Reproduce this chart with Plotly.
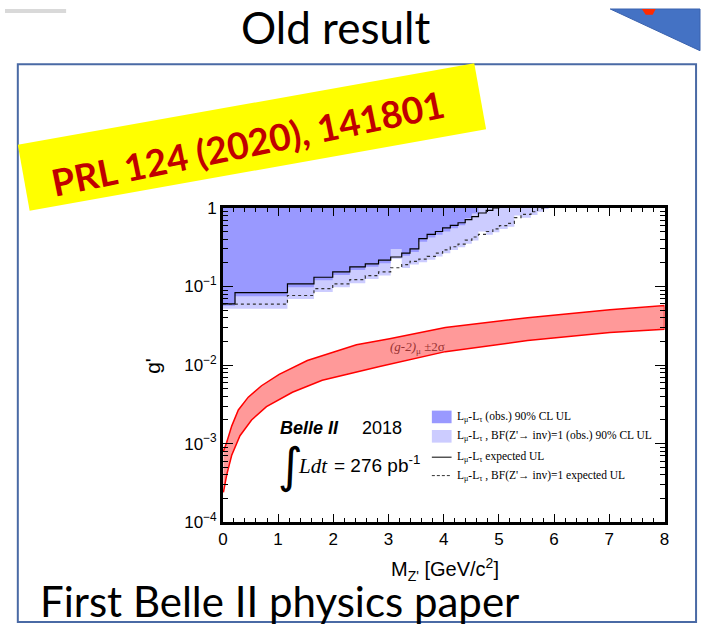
import plotly.graph_objects as go

W, H = 705, 635

# ---------------- data ----------------
mass_edges = [0.0, 0.22, 1.17, 1.65, 1.99, 2.30, 2.58, 2.82, 3.04, 3.24, 3.39, 3.55,
              3.70, 3.85, 3.98, 4.12, 4.26, 4.39, 4.51, 4.63, 4.77, 4.89, 5.01, 5.16,
              5.28, 5.40, 5.58, 5.70, 5.82, 5.90]

# L_mu - L_tau observed 90% CL UL (dark)
obs_ul = [0.057, 0.075, 0.098, 0.12, 0.14, 0.162, 0.178, 0.198, 0.30, 0.245, 0.275,
          0.37, 0.42, 0.455, 0.50, 0.55, 0.60, 0.74, 0.85]
# L_mu - L_tau, BF(Z'->inv)=1 observed 90% CL UL (light)
obs_inv_ul = [0.052, 0.052, 0.069, 0.085, 0.098, 0.11, 0.124, 0.138, 0.225, 0.172, 0.19,
              0.203, 0.218, 0.24, 0.265, 0.29, 0.315, 0.35, 0.385, 0.50, 0.455, 0.49,
              0.54, 0.575, 0.80, 0.75, 0.81, 0.89, 0.97]
# expected UL (solid)
exp_ul = [0.060, 0.0836, 0.108, 0.131, 0.153, 0.177, 0.194, 0.216, 0.237, 0.265, 0.30,
          0.406, 0.46, 0.50, 0.556, 0.60, 0.647, 0.71, 0.774, 0.86, 0.927, 1.0]
# BF=1 expected UL (dashed)
exp_inv_ul = [0.0594, 0.0594, 0.0767, 0.0936, 0.108, 0.122, 0.137, 0.153, 0.173, 0.19,
              0.209, 0.223, 0.241, 0.265, 0.292, 0.32, 0.346, 0.388, 0.426, 0.46, 0.50,
              0.54, 0.594, 0.634, 0.75, 0.827, 0.893, 0.98]

# (g-2)_mu +-2 sigma band
g2_upper_mass = [0.01, 0.07, 0.16, 0.28, 0.46, 0.70, 1.02, 1.53, 2.42, 3.02, 4.03, 5.52, 7.01, 8.0]
g2_upper = [8.0e-4, 1.04e-3, 1.67e-3, 2.68e-3, 3.9e-3, 5.45e-3, 7.6e-3, 0.0114, 0.0181,
            0.0216, 0.030, 0.040, 0.0506, 0.057]
g2_lower_mass = [0.01, 0.07, 0.16, 0.31, 0.52, 0.79, 1.26, 1.80, 2.84, 4.03, 5.52, 7.01, 8.0]
g2_lower = [2.4e-4, 4.0e-4, 7.1e-4, 1.26e-3, 2.0e-3, 2.95e-3, 4.5e-3, 6.4e-3, 0.0096,
            0.0148, 0.0205, 0.026, 0.0285]

x_ticks = [0, 1, 2, 3, 4, 5, 6, 7, 8]
y_ticks = [1e-4, 1e-3, 1e-2, 1e-1, 1]
y_ticktext = ["10<sup>−4</sup>", "10<sup>−3</sup>", "10<sup>−2</sup>", "10<sup>−1</sup>", "1"]

legend_labels = [
    "L<sub>μ</sub>-L<sub>τ</sub> (obs.) 90% CL UL",
    "L<sub>μ</sub>-L<sub>τ</sub> , BF(Z'→ inv)=1 (obs.) 90% CL UL",
    "L<sub>μ</sub>-L<sub>τ</sub> expected UL",
    "L<sub>μ</sub>-L<sub>τ</sub> , BF(Z'→ inv)=1 expected UL",
]

DARK = "#9999ff"
LIGHT = "#ccccff"
BAND = "#ff9999"


def step_xy(edges, vals):
    xs, ys = [], []
    for i, v in enumerate(vals):
        xs += [edges[i], edges[i + 1]]
        ys += [v, v]
    return xs, ys


def px(x):
    return x / W


def py(y):
    return 1 - y / H


fig = go.Figure()

# light region (BF=1 obs)
xs, ys = step_xy(mass_edges, obs_inv_ul)
fig.add_trace(go.Scatter(x=xs + [xs[-1], xs[0]], y=ys + [1, 1], fill="toself",
                         fillcolor=LIGHT, line=dict(width=0), mode="lines",
                         hoverinfo="skip", showlegend=False))
# dark region (obs)
xs, ys = step_xy(mass_edges, obs_ul)
fig.add_trace(go.Scatter(x=xs + [xs[-1], xs[0]], y=ys + [1, 1], fill="toself",
                         fillcolor=DARK, line=dict(width=0), mode="lines",
                         hoverinfo="skip", showlegend=False))
# expected lines
xs, ys = step_xy(mass_edges, exp_ul)
fig.add_trace(go.Scatter(x=xs, y=ys, mode="lines", line=dict(color="black", width=1.2),
                         showlegend=False))
xs, ys = step_xy(mass_edges, exp_inv_ul)
fig.add_trace(go.Scatter(x=xs, y=ys, mode="lines",
                         line=dict(color="#333333", width=1.2, dash="3px,3px"),
                         showlegend=False))
# g-2 band
fig.add_trace(go.Scatter(x=g2_upper_mass + g2_lower_mass[::-1],
                         y=g2_upper + g2_lower[::-1], fill="toself", fillcolor=BAND,
                         line=dict(color="red", width=1.5), mode="lines",
                         showlegend=False))

minor_y = [m * 10 ** e for e in range(-4, 0) for m in range(2, 10)]

fig.update_layout(
    width=W, height=H, margin=dict(l=0, r=0, t=0, b=0),
    paper_bgcolor="white", plot_bgcolor="white", showlegend=False,
    font=dict(family="Liberation Sans", color="black"),
    xaxis=dict(domain=[px(221), px(669)], range=[0, 8], tickvals=x_ticks,
               ticks="inside", ticklen=8, tickwidth=1.3, tickcolor="black",
               showline=True, linecolor="black", linewidth=2.5, mirror="ticks",
               showgrid=False, zeroline=False, tickfont=dict(size=17),
               minor=dict(dtick=0.2, ticks="inside", ticklen=4, tickcolor="black",
                          tickwidth=1, showgrid=False)),
    yaxis=dict(type="log", domain=[py(529), py(205)], range=[-4, 0],
               tickvals=y_ticks, ticktext=y_ticktext,
               ticks="inside", ticklen=10, tickwidth=1.3, tickcolor="black",
               showline=True, linecolor="black", linewidth=2.5, mirror="ticks",
               showgrid=False, zeroline=False, tickfont=dict(size=17),
               minor=dict(tickvals=minor_y, ticks="inside", ticklen=5,
                          tickcolor="black", tickwidth=1, showgrid=False)),
)

shapes = []
# slide frame
shapes.append(dict(type="rect", xref="paper", yref="paper", x0=px(13), x1=px(701),
                   y0=py(632), y1=py(57), line=dict(color="#4a6aa5", width=2),
                   layer="below"))
# top-right blue triangle
tri = [(614, 0), (705, 0), (705, 43)]
shapes.append(dict(type="path", xref="paper", yref="paper",
                   path="M " + " L ".join(f"{px(a)},{py(b)}" for a, b in tri) + " Z",
                   fillcolor="#4472c4", line=dict(color="#3a62ae", width=1)))
red = [(646, 0), (660, 0), (657, 6), (650, 6)]
shapes.append(dict(type="path", xref="paper", yref="paper",
                   path="M " + " L ".join(f"{px(a)},{py(b)}" for a, b in red) + " Z",
                   fillcolor="#ff2a00", line=dict(width=0)))
# faint grey shadow top-left
shapes.append(dict(type="rect", xref="paper", yref="paper", x0=px(0), x1=px(62),
                   y0=py(4), y1=py(0), fillcolor="#d9d9d9", line=dict(width=0)))
# yellow banner
ban = [(13, 140), (476, 56), (488, 124), (25, 208)]
shapes.append(dict(type="path", xref="paper", yref="paper",
                   path="M " + " L ".join(f"{px(a)},{py(b)}" for a, b in ban) + " Z",
                   fillcolor="#ffff00", line=dict(width=0)))

# legend swatches
shapes.append(dict(type="rect", xref="paper", yref="paper", x0=px(433), x1=px(453),
                   y0=py(427), y1=py(414), fillcolor=DARK, line=dict(width=0)))
shapes.append(dict(type="rect", xref="paper", yref="paper", x0=px(433), x1=px(453),
                   y0=py(447), y1=py(434), fillcolor=LIGHT, line=dict(width=0)))
shapes.append(dict(type="line", xref="paper", yref="paper", x0=px(433), x1=px(453),
                   y0=py(462), y1=py(462), line=dict(color="black", width=1)))
shapes.append(dict(type="line", xref="paper", yref="paper", x0=px(433), x1=px(453),
                   y0=py(481), y1=py(481), line=dict(color="#333333", width=1, dash="3px,2px")))
fig.update_layout(shapes=shapes)

ann = []


def add_text(text, x, y, size, family="Liberation Sans", color="black", xanchor="left",
             yanchor="middle", angle=0):
    ann.append(dict(text=text, x=px(x), y=py(y), xref="paper", yref="paper",
                    showarrow=False, xanchor=xanchor, yanchor=yanchor, textangle=angle,
                    font=dict(size=size, family=family, color=color)))


add_text("Old result", 335, 19, 44, family="Lato", xanchor="center")
add_text("First Belle II physics paper", 33, 610, 42, family="Lato")
add_text("<b>PRL 124 (2020), 141801</b>", 247, 138, 37, family="Lato", color="#c00000",
         xanchor="center", angle=-11.5)

for i, t in enumerate(legend_labels):
    add_text(t, 456, [421, 440, 462, 481][i], 11.5, family="Liberation Serif")

add_text("<b><i>Belle II</i></b>", 277, 432, 18)
add_text("2018", 360, 432, 18)
add_text("∫", 275, 470, 48, family="DejaVu Sans")
add_text("<i>Ldt</i>", 295, 471, 21, family="Liberation Serif")
add_text("= 276 pb<sup>-1</sup>", 332, 469, 19)
add_text("<i>(g-2)</i><sub>μ</sub> ±2σ", 389, 349, 13, family="Liberation Serif",
         color="#993333")

add_text("g'", 150, 368, 21, xanchor="center", angle=-90)
add_text("M<sub>Z'</sub> [GeV/c<sup>2</sup>]", 446, 578, 20, xanchor="center")

fig.update_layout(annotations=ann)
fig.write_html("out.html")
